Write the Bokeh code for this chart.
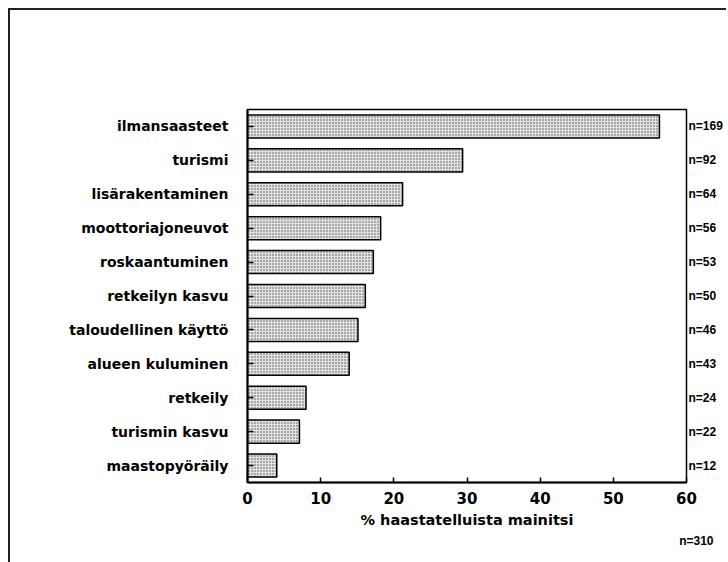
from bokeh.plotting import figure
from bokeh.models import FactorRange, Range1d, CategoricalAxis, Title, FixedTicker, ColumnDataSource
from bokeh.embed import file_html
from bokeh.resources import INLINE

categories = ["ilmansaasteet", "turismi", "lisärakentaminen", "moottoriajoneuvot",
              "roskaantuminen", "retkeilyn kasvu", "taloudellinen käyttö",
              "alueen kuluminen", "retkeily", "turismin kasvu", "maastopyöräily"]
percent = [56.3, 29.4, 21.2, 18.2, 17.2, 16.1, 15.1, 13.9, 8.0, 7.1, 4.0]
n_counts = [169, 92, 64, 56, 53, 50, 46, 43, 24, 22, 12]
n_total = 310
x_ticks = [0, 10, 20, 30, 40, 50, 60]
x_title = "% haastatelluista mainitsi"

FONT = "DejaVu Sans"

factors = categories[::-1]
n_labels = ["n=%d" % n for n in n_counts]
src = ColumnDataSource(dict(cat=categories, pct=percent))

p = figure(y_range=FactorRange(factors=factors), x_range=Range1d(0, 60),
           frame_width=439, frame_height=373,
           min_border_left=237, min_border_top=99, min_border_right=40, min_border_bottom=80,
           output_backend="svg", toolbar_location=None)
p.styles = {"border-top": "2px solid #222", "border-left": "2px solid #222",
            "margin-left": "8px", "margin-top": "8px"}
p.extra_y_ranges = {"n": FactorRange(factors=n_labels[::-1])}

p.hbar(y="cat", left=0, right="pct", height=0.68, source=src,
       fill_color="#e0e0e0", line_color="black", line_width=1.5,
       hatch_pattern="dot", hatch_color="#555555", hatch_scale=3, hatch_weight=1)

p.xgrid.visible = False
p.ygrid.visible = False
p.outline_line_color = "black"
p.outline_line_width = 1.5

# left axis
ya = p.yaxis[0]
ya.axis_line_width = 2
ya.major_tick_in = 6
ya.major_tick_out = 0
ya.major_tick_line_width = 1.5
ya.major_label_standoff = 19
ya.major_label_text_font = FONT
ya.major_label_text_font_style = "bold"
ya.major_label_text_font_size = "14px"
ya.major_label_text_color = "black"

# right axis with n labels
ra = CategoricalAxis(y_range_name="n")
ra.axis_line_color = None
ra.major_tick_line_color = None
ra.major_tick_in = 0
ra.major_tick_out = 0
ra.major_label_standoff = 2
ra.major_label_text_font = "Liberation Sans"
ra.major_label_text_font_style = "bold"
ra.major_label_text_font_size = "12px"
ra.major_label_text_color = "black"
p.add_layout(ra, "right")

# bottom axis
xa = p.xaxis[0]
xa.ticker = FixedTicker(ticks=x_ticks)
xa.minor_tick_line_color = None
xa.axis_line_width = 2
xa.major_tick_in = 5
xa.major_tick_out = 0
xa.major_tick_line_width = 1.5
xa.major_label_standoff = 9
xa.major_label_text_font = FONT
xa.major_label_text_font_style = "bold"
xa.major_label_text_font_size = "15px"
xa.major_label_text_color = "black"
xa.axis_label = x_title
xa.axis_label_standoff = 5
xa.axis_label_text_font = FONT
xa.axis_label_text_font_style = "bold"
xa.axis_label_text_font_size = "14.5px"
xa.axis_label_text_color = "black"

p.add_layout(Title(text="n=%d" % n_total, align="right", offset=-27,
                   text_font="Liberation Sans", text_font_style="bold",
                   text_font_size="12px", text_color="black", standoff=3), "below")

open("out.html", "w").write(file_html(p, INLINE))
